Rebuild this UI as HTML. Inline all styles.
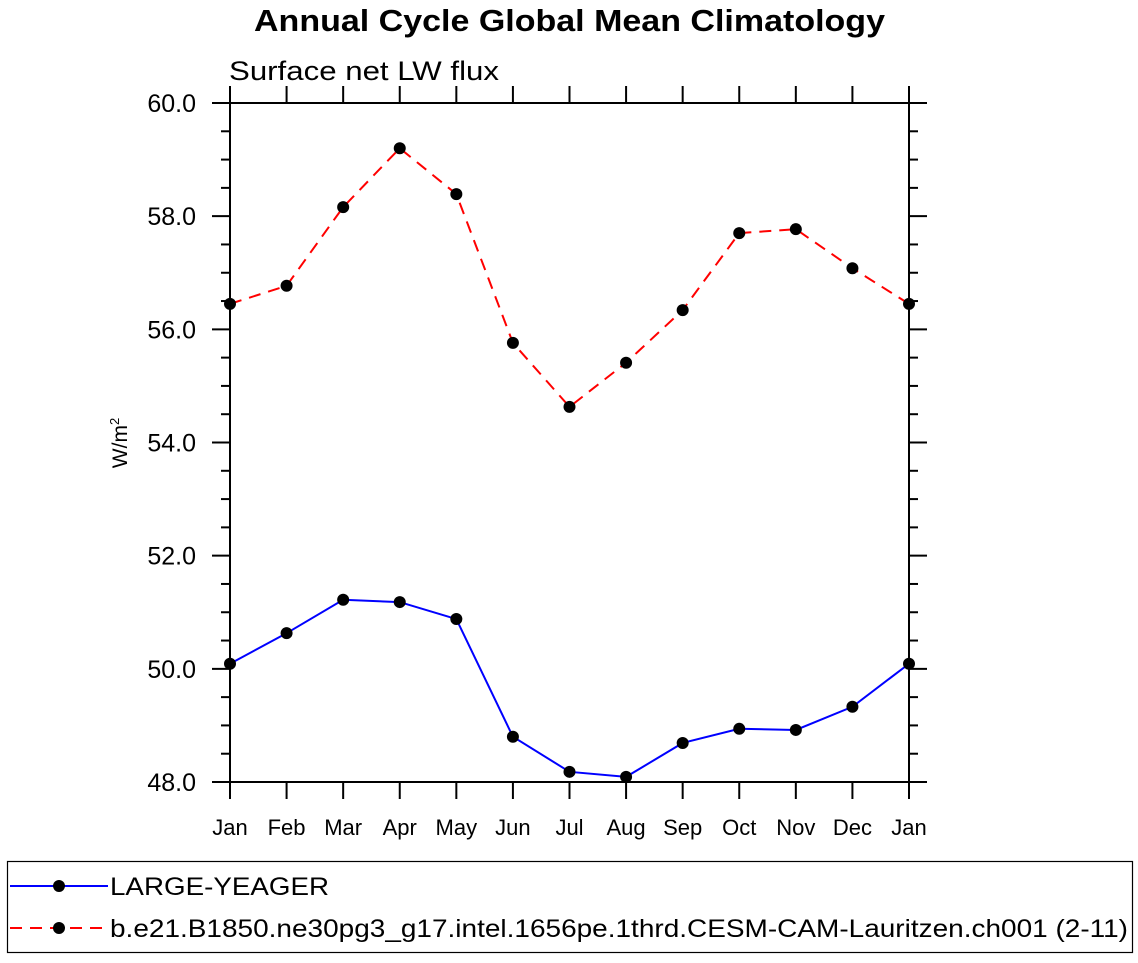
<!DOCTYPE html>
<html><head><meta charset="utf-8"><style>
html,body{margin:0;padding:0;background:#fff;}
svg text{font-family:"Liberation Sans",Arial,sans-serif;}
</style></head><body>
<svg id="chart" width="1138" height="958" xmlns="http://www.w3.org/2000/svg">
<text x="254" y="31" font-size="31" font-weight="bold" textLength="631" lengthAdjust="spacingAndGlyphs">Annual Cycle Global Mean Climatology</text>
<text x="229" y="80" font-size="27" textLength="270" lengthAdjust="spacingAndGlyphs">Surface net LW flux</text>
<text transform="translate(127,443) rotate(-90)" font-size="21" text-anchor="middle">W/m<tspan dy="-8" font-size="13">2</tspan></text>
<g id="axes"></g>
<g id="series"></g>
<rect x="7.5" y="861.5" width="1125" height="91" fill="none" stroke="#000" stroke-width="1.2"/>
<g>
<line x1="10" y1="886" x2="108" y2="886" stroke="#0000ff" stroke-width="2"/>
<circle cx="59" cy="886" r="6" fill="#000"/>
<text x="110" y="895" font-size="25" textLength="219" lengthAdjust="spacingAndGlyphs">LARGE-YEAGER</text>
</g>
<g>
<line x1="10" y1="928" x2="108" y2="928" stroke="#ff0000" stroke-width="2" stroke-dasharray="12,8"/>
<circle cx="59" cy="928" r="6" fill="#000"/>
<text x="110" y="937" font-size="25" textLength="1018" lengthAdjust="spacingAndGlyphs">b.e21.B1850.ne30pg3_g17.intel.1656pe.1thrd.CESM-CAM-Lauritzen.ch001 (2-11)</text>
</g>
</svg>
<script>
const months = ["Jan","Feb","Mar","Apr","May","Jun","Jul","Aug","Sep","Oct","Nov","Dec","Jan"];
const yTicks = [48,50,52,54,56,58,60];
const yTickLabels = ["48.0","50.0","52.0","54.0","56.0","58.0","60.0"];
const blueValues = [50.09,50.63,51.22,51.18,50.88,48.80,48.18,48.09,48.69,48.94,48.92,49.33,50.09];
const redValues = [56.45,56.77,58.16,59.20,58.39,55.76,54.63,55.41,56.34,57.70,57.77,57.08,56.45];

const NS="http://www.w3.org/2000/svg";
const X0=230,X1=909,Y0=782,Y1=103,YMIN=48,YMAX=60;
function xs(i){return X0+(X1-X0)*i/(months.length-1);}
function ys(v){return Y0-(v-YMIN)/(YMAX-YMIN)*(Y0-Y1);}
function mk(tag,attrs,parent){const e=document.createElementNS(NS,tag);for(const k in attrs)e.setAttribute(k,attrs[k]);parent.appendChild(e);return e;}
const axes=document.getElementById('axes');
const frame=mk('rect',{x:X0,y:Y1,width:X1-X0,height:Y0-Y1,fill:'none',stroke:'#000','stroke-width':2},axes);


months.forEach((m,i)=>{
  const x=xs(i);
  const t1=mk('line',{x1:x,y1:Y0,x2:x,y2:Y0+17,stroke:'#000','stroke-width':2},axes);
  
  
  const t2=mk('line',{x1:x,y1:Y1,x2:x,y2:Y1-17,stroke:'#000','stroke-width':2},axes);
  
  
  const lb=mk('text',{x:x,y:835,'font-size':22,'text-anchor':'middle'},axes);
  lb.textContent=m;
  
  
});
for(let v=YMIN;v<=YMAX+1e-6;v+=0.5){
  const y=ys(v);const major=Math.abs(v/2-Math.round(v/2))<1e-6;const L=major?18:9;
  const a=mk('line',{x1:X0,y1:y,x2:X0-L,y2:y,stroke:'#000','stroke-width':2},axes);
  
  
  const b=mk('line',{x1:X1,y1:y,x2:X1+L,y2:y,stroke:'#000','stroke-width':2},axes);
  
  
}
yTicks.forEach((v,i)=>{
  const lb=mk('text',{x:196,y:ys(v)+9,'font-size':25,'text-anchor':'end'},axes);
  lb.textContent=yTickLabels[i];
  
  
});
const series=document.getElementById('series');
function draw(vals,color,dash,name){
  const pts=vals.map((v,i)=>xs(i)+','+ys(v)).join(' ');
  const pl=mk('polyline',{points:pts,fill:'none',stroke:color,'stroke-width':2,'stroke-dasharray':dash},series);
  
  
  vals.forEach((v,i)=>{
    const c=mk('circle',{cx:xs(i),cy:ys(v),r:6,fill:'#000'},series);
    
    
  });
}
draw(redValues,'#ff0000','12,8','cesm');
draw(blueValues,'#0000ff','none','large-yeager');
</script>
</body></html>
